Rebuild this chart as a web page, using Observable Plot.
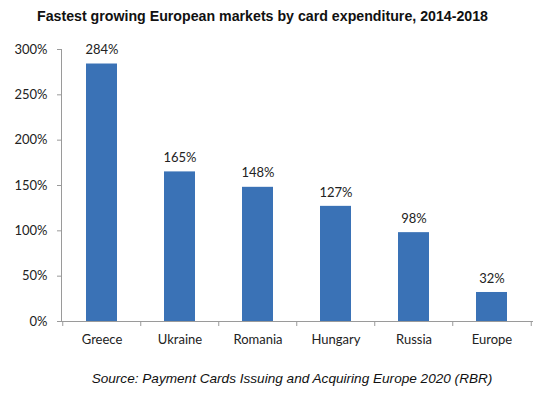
<!DOCTYPE html>
<html><head><meta charset="utf-8">
<script src="https://cdn.jsdelivr.net/npm/d3@7"></script>
<script src="https://cdn.jsdelivr.net/npm/@observablehq/plot@0.6"></script>
<style>
body{margin:0;background:#fff;width:550px;height:393px;overflow:hidden}
#title{height:32px;font:bold 14.2px "Liberation Sans",Arial,sans-serif;line-height:32px;color:#111;text-align:center;padding-right:25px;box-sizing:border-box;width:550px}
#cap{height:31px;font:italic 13.6px "Liberation Sans",Arial,sans-serif;line-height:34px;color:#111;text-align:center;padding-left:34px;box-sizing:border-box;width:550px}
</style></head>
<body>
<div id="title">Fastest growing European markets by card expenditure, 2014-2018</div>
<div id="chart"></div>
<div id="cap">Source: Payment Cards Issuing and Acquiring Europe 2020 (RBR)</div>
<script>
const categories = ["Greece","Ukraine","Romania","Hungary","Russia","Europe"];
const growth = [2.84,1.65,1.48,1.27,0.98,0.32];
const yTicks = [0,0.5,1,1.5,2,2.5,3];
const data = categories.map((c,i)=>({c, v: growth[i]}));
const fmt = d => Math.round(d*100) + "%";
const half = 39.25;
const chart = Plot.plot({
  width: 550, height: 330,
  marginTop: 17, marginBottom: 41, marginLeft: 61, marginRight: 18,
  style: {fontFamily: "Lato, 'Open Sans', sans-serif", fontSize: "13px", color: "#222", background: "#fff"},
  x: {domain: categories, paddingInner: 0.6, paddingOuter: 0.3, label: null},
  y: {domain: [0,3], label: null},
  marks: [
    Plot.barY(data, {x: "c", y: "v", fill: "#3a72b6"}),
    Plot.text(data, {x: "c", y: "v", text: d => fmt(d.v), dy: -14, fontSize: 13, fill: "#222"}),
    Plot.frame({anchor: "left", stroke: "#9a9a9a"}),
    Plot.frame({anchor: "bottom", stroke: "#9a9a9a"}),
    Plot.axisY({ticks: yTicks, tickFormat: fmt, tickSize: 4, tickPadding: 10, stroke: "#9a9a9a", fill: "#222", fontSize: 13}),
    Plot.axisX({tickSize: 0, tickPadding: 13, fill: "#222", fontSize: 13}),
    Plot.ruleX(categories, {x: d => d, dx: -half, y1: 0, y2: 0, insetBottom: -5, stroke: "#9a9a9a"}),
    Plot.ruleX(categories.slice(-1), {x: d => d, dx: half, y1: 0, y2: 0, insetBottom: -5, stroke: "#9a9a9a"})
  ]
});
document.getElementById("chart").appendChild(chart);
</script>
</body></html>
